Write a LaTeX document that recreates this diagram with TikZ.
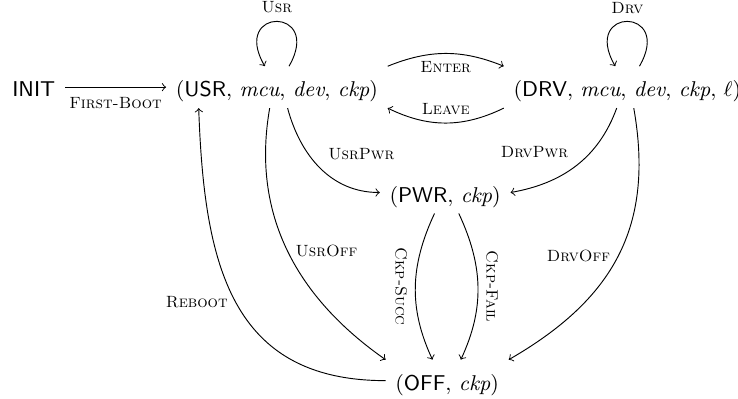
\documentclass[tikz,border=0pt]{standalone}
\usepackage{fontspec}
\begin{document}
\begin{tikzpicture}[
state/.style={font=\fontsize{9.2}{11}\selectfont,inner xsep=4pt,inner ysep=2pt,text height=10.9pt,text depth=2.7pt,anchor=base},
trans/.style={font=\scriptsize\scshape}]
\useasboundingbox (0,0) rectangle (11.14,6.01);

\draw (0.51,4.55) node[state] (init) {\textsf{INIT}};
\draw (4.18,4.55) node[state] (usr) {(\textsf{USR}, \textit{mcu}, \textit{dev}, \textit{ckp})};
\draw (9.47,4.55) node[state] (drv) {(\textsf{DRV}, \textit{mcu}, \textit{dev}, \textit{ckp}, $\ell$)};
\draw (6.72,2.96) node[state] (pwr) {(\textsf{PWR}, \textit{ckp})};
\draw (6.75,0.12) node[state] (off) {(\textsf{OFF}, \textit{ckp})};

\draw[->] (init) -- node[trans,below=1pt] {First-Boot} (usr);
\draw[->] (usr.60) to[out=60,in=120,distance=1.04cm] node[trans,above] {Usr} (usr.120);
\draw[->] (drv.60) to[out=60,in=120,distance=1.04cm] node[trans,above] {Drv} (drv.120);
\draw[->] (usr.north east) to[bend left=22] node[trans,below] {Enter} (drv.north west);
\draw[->] (drv.south west) to[bend left=26] node[trans,above] {Leave} (usr.south east);
\draw[->] (usr.-63) to[out=-75,in=180] node[trans,above right] {UsrPwr} (pwr.west);
\draw[->] (drv.-117) to[out=-110,in=10] node[trans,above left] {DrvPwr} (pwr.east);
\draw[->] (usr.-109) to[out=-100,in=145] node[trans,right] {UsrOff} (off.north west);
\draw[->] (off.west) to[out=180,in=-88,looseness=1.2] node[trans,left] {Reboot} (usr.-165);
\draw[->] (drv.-73) to[out=-80,in=30,looseness=1.1] node[trans,left] {DrvOff} (off.north east);
\draw[->] (pwr.-117) to[out=-115,in=115] node[trans,anchor=north,rotate=-90] {Ckp-Succ} (off.125);
\draw[->] (pwr.-57) to[out=-65,in=65] node[trans,anchor=south,rotate=-90] {Ckp-Fail} (off.57);
\end{tikzpicture}
\end{document}
